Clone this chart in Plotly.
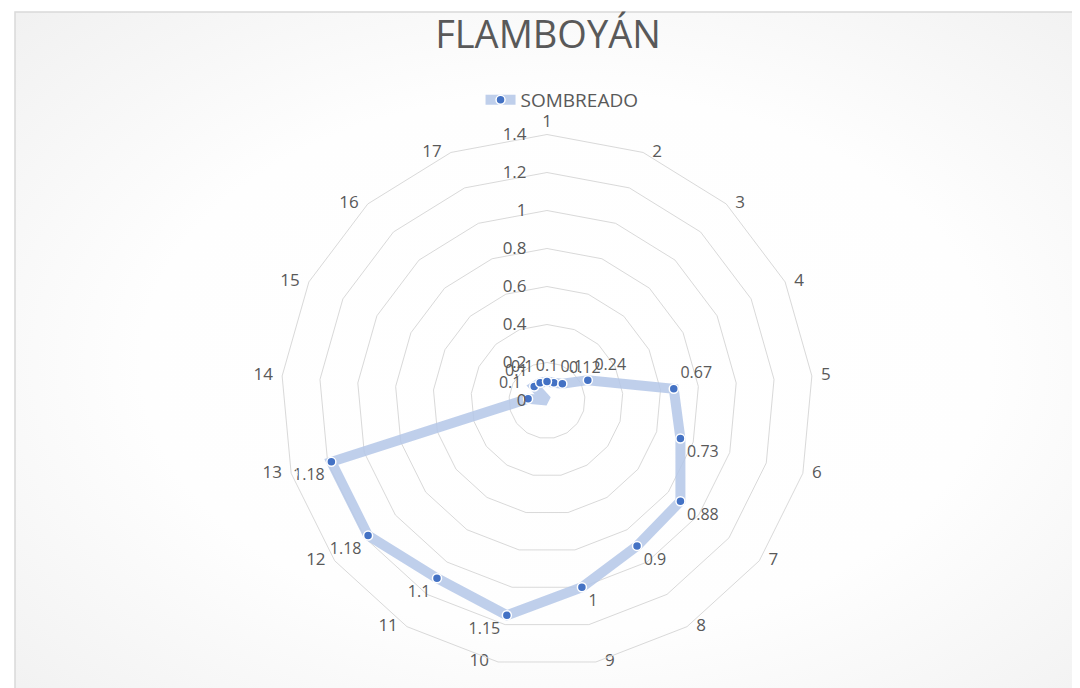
import base64
import plotly.graph_objects as go

categories = [str(i) for i in range(1, 18)]
values = [0.1, 0.1, 0.12, 0.24, 0.67, 0.73, 0.88, 0.9, 1, 1.15, 1.1, 1.18, 1.18, 0.1, 0, 0.1, 0.1]
value_labels = ["0.1", "0.1", "0.12", "0.24", "0.67", "0.73", "0.88", "0.9", "1", "1.15", "1.1", "1.18", "1.18", "0.1", "0", "0.1", "0.1"]
label_positions = ["top center", "top right", "top right", "top right", "top right",
                   "bottom right", "bottom right", "bottom right", "bottom right",
                   "bottom left", "bottom left", "bottom left", "bottom left",
                   "top left", "bottom left", "top left", "top left"]
category_label_positions = ["top center"] + ["middle right"] * 8 + ["middle left"] * 8
radial_ticks = [0, 0.2, 0.4, 0.6, 0.8, 1, 1.2, 1.4]
r_max = 1.4

gray = "#595959"
fontfam = "Open Sans, Liberation Sans, sans-serif"

# soft radial background like the original chart area
svg = ('<svg xmlns="http://www.w3.org/2000/svg" width="1100" height="700">'
       '<defs><radialGradient id="g" cx="50%" cy="50%" r="70%">'
       '<stop offset="0%" stop-color="#ffffff"/><stop offset="55%" stop-color="#fefefe"/>'
       '<stop offset="100%" stop-color="#f1f1f1"/></radialGradient></defs>'
       '<rect width="1100" height="700" fill="url(#g)"/></svg>')
bg_src = "data:image/svg+xml;base64," + base64.b64encode(svg.encode()).decode()

fig = go.Figure()
fig.add_trace(go.Scatterpolar(
    r=values + [values[0]],
    theta=categories + [categories[0]],
    mode="lines+markers+text",
    name="SOMBREADO",
    text=value_labels + [""],
    textposition=label_positions + ["top center"],
    textfont=dict(color=gray, size=16, family=fontfam),
    line=dict(color="rgba(180,199,231,0.85)", width=10),
    marker=dict(color="#4472C4", size=9, line=dict(color="white", width=1.5)),
    cliponaxis=False,
))
# category labels around the outer ring
fig.add_trace(go.Scatterpolar(
    r=[r_max] * len(categories),
    theta=categories,
    mode="markers+text",
    text=categories,
    textposition=category_label_positions,
    textfont=dict(color=gray, size=17, family=fontfam),
    marker=dict(size=[4] + [13] * 16, color="rgba(0,0,0,0)"),
    showlegend=False, hoverinfo="skip", cliponaxis=False,
))

fig.update_layout(
    width=1080, height=688,
    margin=dict(l=0, r=0, t=0, b=0),
    paper_bgcolor="white",
    title=dict(text="FLAMBOYÁN", x=0.5, xanchor="center", y=1 - 27 / 688, yanchor="middle",
               font=dict(size=38, color=gray, family=fontfam)),
    showlegend=True,
    legend=dict(orientation="h", x=0.513, xanchor="center", y=1 - 92 / 688, yanchor="middle",
                font=dict(size=19, color=gray, family=fontfam), bgcolor="rgba(0,0,0,0)"),
    polar=dict(
        domain=dict(x=[273 / 1080, 805 / 1080], y=[29.5 / 688, 561.5 / 688]),
        bgcolor="rgba(0,0,0,0)",
        gridshape="linear",
        radialaxis=dict(
            range=[0, r_max], tickvals=radial_ticks, ticktext=[str(t) for t in radial_ticks],
            angle=90, tickangle=90, side="counterclockwise",
            showline=False, ticks="outside", ticklen=14, tickcolor="rgba(0,0,0,0)",
            gridcolor="#d9d9d9", gridwidth=1,
            tickfont=dict(size=17, color=gray, family=fontfam),
        ),
        angularaxis=dict(
            categoryorder="array", categoryarray=categories,
            rotation=90, direction="clockwise",
            showgrid=False, linecolor="#d9d9d9", linewidth=1, ticks="",
            showticklabels=False,
        ),
    ),
    images=[dict(source=bg_src, xref="paper", yref="paper", x=7 / 1080, y=1 - 4 / 688,
                 sizex=1.02, sizey=1.02, sizing="stretch", xanchor="left", yanchor="top",
                 layer="below")],
    shapes=[dict(type="rect", xref="paper", yref="paper", x0=7 / 1080, y0=-0.02, x1=1.02, y1=1 - 4 / 688,
                 line=dict(color="#d9d9d9", width=1.5), fillcolor="rgba(0,0,0,0)", layer="below")],
)

fig.write_html("out.html")
